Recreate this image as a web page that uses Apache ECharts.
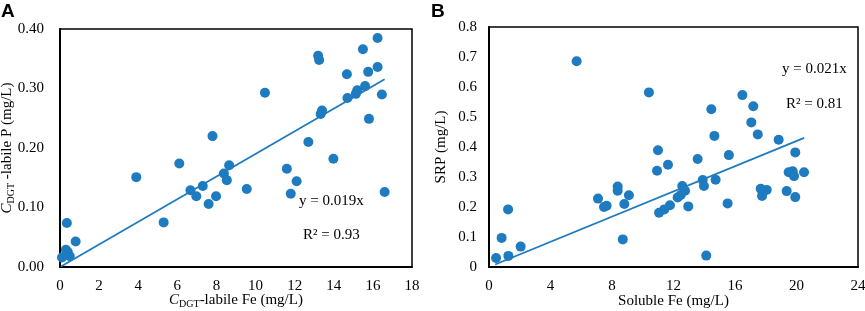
<!DOCTYPE html>
<html>
<head>
<meta charset="utf-8">
<script src="https://cdn.jsdelivr.net/npm/echarts@6/dist/echarts.min.js"></script>
<style>
  html, body { margin: 0; padding: 0; background: #fff; }
  #chart { width: 865px; height: 311px; }
</style>
</head>
<body>
<div id="chart"></div>
<script>
// panel A: DGT-labile Fe vs DGT-labile P
var feA = [0.1, 0.3, 0.5, 0.4, 0.35, 0.8, 3.9, 5.3, 6.1, 6.67, 6.97, 7.3, 7.6, 7.98, 7.8, 8.38, 8.53, 8.65, 9.55,
    10.48, 11.6, 11.8, 12.1, 12.7, 13.2, 13.25, 13.33, 13.4, 13.98, 14.67, 14.7, 15.13, 15.2, 15.49, 15.6, 15.76,
    15.8, 16.24, 16.24, 16.46, 16.6];
var pA = [0.016, 0.029, 0.018, 0.025, 0.074, 0.043, 0.151, 0.075, 0.174, 0.129, 0.119, 0.136, 0.106, 0.119, 0.220,
    0.157, 0.146, 0.171, 0.131, 0.293, 0.165, 0.123, 0.144, 0.210, 0.355, 0.348, 0.257, 0.263, 0.182, 0.324, 0.284,
    0.291, 0.297, 0.366, 0.304, 0.328, 0.249, 0.385, 0.336, 0.290, 0.126];
var slopeA = 0.019;
var fitRangeA = [0.05, 16.6];

// panel B: soluble Fe vs SRP
var feB = [0.46, 0.82, 1.24, 1.26, 2.06, 5.7, 7.09, 7.48, 7.65, 8.37, 8.37, 8.8, 8.7, 9.1, 10.4, 10.99, 10.93,
    11.64, 11.06, 11.4, 11.77, 12.27, 12.47, 12.57, 12.75, 12.96, 13.57, 13.9, 13.98, 14.13, 14.46, 14.66, 14.74,
    15.52, 15.6, 16.48, 17.06, 17.19, 17.48, 17.67, 17.76, 18.06, 18.84, 19.36, 19.49, 19.75, 19.84, 19.92, 19.92,
    20.49];
var srpB = [0.03, 0.097, 0.192, 0.037, 0.068, 0.686, 0.228, 0.2, 0.204, 0.268, 0.254, 0.21, 0.092, 0.239, 0.582,
    0.389, 0.321, 0.341, 0.181, 0.192, 0.206, 0.232, 0.24, 0.27, 0.254, 0.202, 0.36, 0.29, 0.27, 0.038, 0.526,
    0.437, 0.291, 0.212, 0.373, 0.573, 0.482, 0.536, 0.442, 0.261, 0.237, 0.257, 0.424, 0.253, 0.316, 0.319, 0.303,
    0.382, 0.233, 0.316];
var slopeB = 0.021;
var fitRangeB = [0.4, 20.5];

var blue = '#1f7bbf';
var serif = 'Liberation Serif';

function pairs(xs, ys) {
    return xs.map(function (x, i) { return [x, ys[i]]; });
}
function fitLine(slope, range) {
    return range.map(function (x) { return [x, slope * x]; });
}

var labelStyle = { fontFamily: serif, fontSize: 15, color: '#000' };
var subRich = {
    i: { fontFamily: serif, fontSize: 15, fontStyle: 'italic', color: '#000' },
    s: { fontFamily: serif, fontSize: 10, color: '#000', padding: [7, 0, 0, 0] },
    n: { fontFamily: serif, fontSize: 15, color: '#000' }
};

var chart = echarts.init(document.getElementById('chart'));
var option = {
    animation: false,
    textStyle: { fontFamily: serif },
    grid: [
        { left: 60, top: 29, width: 352, height: 238, show: true, borderColor: '#000', borderWidth: 1.5,
          containLabel: false, outerBoundsMode: 'none' },
        { left: 489, top: 27, width: 369, height: 240, show: true, borderColor: '#000', borderWidth: 1.5,
          containLabel: false, outerBoundsMode: 'none' }
    ],
    xAxis: [
        {
            gridIndex: 0, type: 'value', min: 0, max: 18, interval: 2,
            axisLine: { lineStyle: { color: '#000', width: 2 } },
            axisTick: { show: false }, splitLine: { show: false },
            axisLabel: Object.assign({ margin: 12 }, labelStyle),
            name: '{i|C}{s|DGT}{n|-labile Fe (mg/L)}', nameLocation: 'middle', nameGap: 25,
            nameMoveOverlap: false,
            nameTextStyle: { rich: subRich }
        },
        {
            gridIndex: 1, type: 'value', min: 0, max: 24, interval: 4,
            axisLine: { lineStyle: { color: '#000', width: 2 } },
            axisTick: { show: false }, splitLine: { show: false },
            axisLabel: Object.assign({ margin: 12 }, labelStyle),
            name: 'Soluble Fe (mg/L)', nameLocation: 'middle', nameGap: 27,
            nameMoveOverlap: false,
            nameTextStyle: labelStyle
        }
    ],
    yAxis: [
        {
            gridIndex: 0, type: 'value', min: 0, max: 0.4, interval: 0.1,
            axisLine: { lineStyle: { color: '#000', width: 2 } },
            axisTick: { show: false }, splitLine: { show: false },
            axisLabel: Object.assign({ margin: 16, formatter: function (v) { return v.toFixed(2); } }, labelStyle),
            name: '{i|C}{s|DGT}{n| -labile P (mg/L)}', nameLocation: 'middle', nameGap: 44,
            nameMoveOverlap: false,
            nameTextStyle: { rich: subRich }
        },
        {
            gridIndex: 1, type: 'value', min: 0, max: 0.8, interval: 0.1,
            axisLine: { lineStyle: { color: '#000', width: 2 } },
            axisTick: { show: false }, splitLine: { show: false },
            axisLabel: Object.assign({ margin: 12 }, labelStyle),
            name: 'SRP (mg/L)', nameLocation: 'middle', nameGap: 40,
            nameMoveOverlap: false,
            nameTextStyle: labelStyle
        }
    ],
    graphic: [
        { type: 'text', left: 1, top: 2, style: { text: 'A', font: 'bold 19px "Liberation Sans"', fill: '#000' } },
        { type: 'text', left: 431, top: 2, style: { text: 'B', font: 'bold 19px "Liberation Sans"', fill: '#000' } },
        { type: 'text', left: 299, top: 194, style: { text: 'y = 0.019x', font: '15px "Liberation Serif"', fill: '#000' } },
        { type: 'text', left: 303, top: 228, style: { text: 'R² = 0.93', font: '15px "Liberation Serif"', fill: '#000' } },
        { type: 'text', left: 782, top: 62, style: { text: 'y = 0.021x', font: '15px "Liberation Serif"', fill: '#000' } },
        { type: 'text', left: 786, top: 97, style: { text: 'R² = 0.81', font: '15px "Liberation Serif"', fill: '#000' } }
    ],
    series: [
        {
            type: 'scatter', xAxisIndex: 0, yAxisIndex: 0, symbolSize: 10,
            itemStyle: { color: blue, opacity: 1 }, data: pairs(feA, pA), z: 3
        },
        {
            type: 'line', xAxisIndex: 0, yAxisIndex: 0, showSymbol: false, symbol: 'none',
            lineStyle: { color: blue, width: 1.8 }, data: fitLine(slopeA, fitRangeA), z: 4
        },
        {
            type: 'scatter', xAxisIndex: 1, yAxisIndex: 1, symbolSize: 10,
            itemStyle: { color: blue, opacity: 1 }, data: pairs(feB, srpB), z: 3
        },
        {
            type: 'line', xAxisIndex: 1, yAxisIndex: 1, showSymbol: false, symbol: 'none',
            lineStyle: { color: blue, width: 1.8 }, data: fitLine(slopeB, fitRangeB), z: 4
        }
    ]
};
chart.setOption(option);
</script>
</body>
</html>
